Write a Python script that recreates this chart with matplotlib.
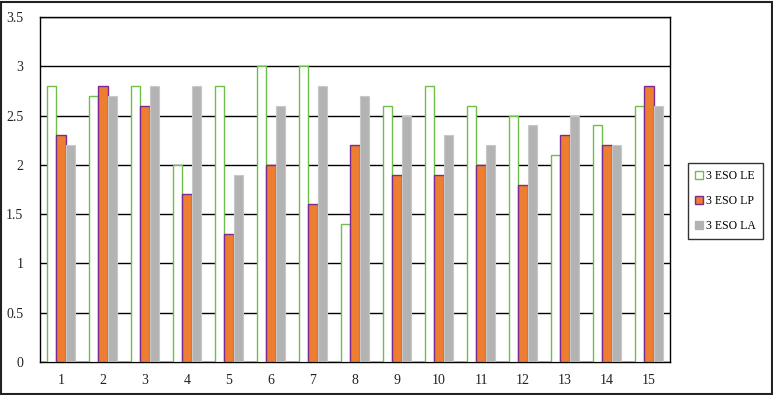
import matplotlib
matplotlib.use("Agg")
import matplotlib.pyplot as plt
import numpy as np
from matplotlib.patches import Patch, Rectangle

categories = [str(i) for i in range(1, 16)]
le = [2.8, 2.7, 2.8, 2.0, 2.8, 3.0, 3.0, 1.4, 2.6, 2.8, 2.6, 2.5, 2.1, 2.4, 2.6]
lp = [2.3, 2.8, 2.6, 1.7, 1.3, 2.0, 1.6, 2.2, 1.9, 1.9, 2.0, 1.8, 2.3, 2.2, 2.8]
la = [2.2, 2.7, 2.8, 2.8, 1.9, 2.6, 2.8, 2.7, 2.5, 2.3, 2.2, 2.4, 2.5, 2.2, 2.6]
series_names = ["3 ESO LE", "3 ESO LP", "3 ESO LA"]
yticks = [0, 0.5, 1, 1.5, 2, 2.5, 3, 3.5]
ytick_labels = ["0", "0.5", "1", "1.5", "2", "2.5", "3", "3.5"]

plt.rcParams['font.family'] = ['Liberation Serif', 'DejaVu Serif']

W, H = 773, 395
fig = plt.figure(figsize=(W/100, H/100), dpi=100)
ax = fig.add_axes([40/W, 1 - 362/H, 630/W, 345/H])

x = np.arange(len(categories))
bw = 0.222
green = '#6CC04A'
orange = '#ED7D31'
purple = '#7A2A90'
gray = '#B3B3B3'

ax.bar(x - bw, le, bw, facecolor='white', edgecolor=green, linewidth=1.0, zorder=3)
ax.bar(x, lp, bw, facecolor=orange, edgecolor=purple, linewidth=1.0, zorder=3)
ax.bar(x + bw, la, bw, facecolor=gray, edgecolor='#C8C8C8', linewidth=0.8, zorder=3)

ax.set_xlim(-0.5, len(categories) - 0.5)
ax.set_ylim(0, 3.5)
ax.set_yticks(yticks)
ax.set_yticklabels(ytick_labels)
ax.set_xticks(x)
ax.set_xticklabels(categories)
ax.tick_params(axis='both', length=0, labelsize=10, colors='#222222')
ax.tick_params(axis='y', pad=12)
ax.tick_params(axis='x', pad=9)
ax.yaxis.grid(True, color='black', linewidth=1.0, zorder=1)
ax.set_axisbelow(True)
for s in ax.spines.values():
    s.set_color('black')
    s.set_linewidth(1.0)

handles = [Patch(facecolor='white', edgecolor=green, linewidth=1.0),
           Patch(facecolor=orange, edgecolor=purple, linewidth=1.0),
           Patch(facecolor=gray, edgecolor=gray, linewidth=1.0)]
leg = fig.legend(handles, series_names, loc='upper left',
                 bbox_to_anchor=(688/W, 1 - 163/H), fontsize=8.5,
                 frameon=True, fancybox=False, edgecolor='black',
                 handlelength=0.7, handleheight=0.7, handletextpad=0.25,
                 labelspacing=1.1, borderpad=0.6, borderaxespad=0)
leg.get_frame().set_linewidth(1.0)

fig.patches.append(Rectangle((1/W, 1/H), 1 - 2.5/W, 1 - 2.5/H, transform=fig.transFigure,
                             fill=False, edgecolor='#222222', linewidth=1.5))

fig.savefig('out.png', dpi=100)
